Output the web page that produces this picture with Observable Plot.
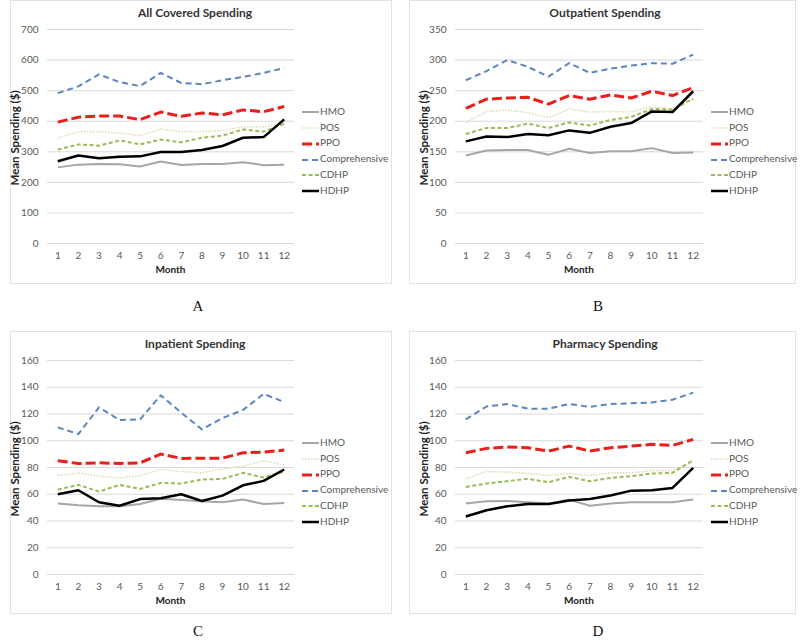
<!DOCTYPE html>
<html>
<head>
<meta charset="utf-8">
<script src="https://cdn.jsdelivr.net/npm/d3@7"></script>
<script src="https://cdn.jsdelivr.net/npm/@observablehq/plot@0.6"></script>
<style>
  html, body { margin: 0; padding: 0; background: #fff; }
  #root { position: relative; width: 800px; height: 642px; overflow: hidden; font-family: Lato, "Open Sans", sans-serif; }
  .box { position: absolute; border: 1px solid #e2e2e2; box-sizing: border-box; }
  .abs { position: absolute; white-space: nowrap; }
  .title { font-weight: bold; font-size: 12px; color: #333; transform: translateX(-50%); }
  .ylab { font-weight: bold; font-size: 11.5px; color: #222; transform: translate(-50%, -50%) rotate(-90deg); }
  .xlab { font-weight: bold; font-size: 10px; color: #222; transform: translateX(-50%); }
  .letter { font-family: "Liberation Serif", "DejaVu Serif", serif; font-size: 15px; color: #111; transform: translateX(-50%); }
  .leg { font-size: 10px; color: #595959; }
  .leg svg { vertical-align: middle; }
</style>
</head>
<body>
<div id="root"></div>
<script>
const months = [1,2,3,4,5,6,7,8,9,10,11,12];
const plans = ["HMO","POS","PPO","Comprehensive","CDHP","HDHP"];

// A: All Covered Spending
const allHMO   = [249,258,260,259,252,268,257,260,260,266,256,258];
const allPOS   = [345,366,366,361,353,375,366,366,370,381,381,395];
const allPPO   = [397,413,417,417,405,430,416,427,421,437,431,448];
const allComp  = [492,514,553,528,515,558,525,521,534,545,558,574];
const allCDHP  = [307,324,320,337,324,340,331,346,353,373,366,392];
const allHDHP  = [269,288,279,284,285,299,299,306,319,346,348,406];
// B: Outpatient Spending
const outHMO   = [144,152,153,153,145,155,148,151,151,156,148,149];
const outPOS   = [198,216,218,214,206,220,215,216,215,224,220,235];
const outPPO   = [221,236,238,239,228,242,236,243,238,249,242,255];
const outComp  = [267,282,300,289,273,295,279,286,291,295,294,309];
const outCDHP  = [179,189,189,196,189,198,193,202,207,220,219,237];
const outHDHP  = [167,175,174,179,177,185,181,191,197,216,215,249];
// C: Inpatient Spending
const inHMO    = [53,51.7,51,51,52.7,56.7,55.7,54.7,54,56,52.7,53.4];
const inPOS    = [74,76,73.5,72,74,78.5,77,76,79,81,85,82];
const inPPO    = [85,83,83.5,83,83.5,90,86.8,87,87,91,91.5,93];
const inComp   = [110,105,125,115.5,116,134,121,108.5,117,123,135,129];
const inCDHP   = [63.5,67,62,67,64,68.5,68,71,71.5,76,72.5,77];
const inHDHP   = [60,63,54,51.4,56.4,57,60,55,59,66.7,70,78.5];
// D: Pharmacy Spending
const phHMO    = [53,54.7,55,54,53,56,51.4,53,54,54,54,56];
const phPOS    = [71.5,77,76.5,75.5,74,75.5,74,76,76,77.7,77.7,84];
const phPPO    = [91,94.3,95.3,94.8,92.3,96,92.3,94.8,96,97.3,96.5,101];
const phComp   = [116,125.6,127.4,124,124,127.4,125.4,127.4,128,128.6,130.7,136];
const phCDHP   = [65.5,68,69.7,71.5,69,73,69.7,72.2,73.5,75.5,76,85.5];
const phHDHP   = [43.4,48,51,52.7,52.7,55.4,56.4,59,62.7,63,64.7,79.7];

const titles = ["All Covered Spending","Outpatient Spending","Inpatient Spending","Pharmacy Spending"];
const letters = ["A","B","C","D"];
const yTicks = [
  [0,100,200,300,400,500,600,700],
  [0,50,100,150,200,250,300,350],
  [0,20,40,60,80,100,120,140,160],
  [0,20,40,60,80,100,120,140,160]
];
const series = [
  [allHMO,allPOS,allPPO,allComp,allCDHP,allHDHP],
  [outHMO,outPOS,outPPO,outComp,outCDHP,outHDHP],
  [inHMO,inPOS,inPPO,inComp,inCDHP,inHDHP],
  [phHMO,phPOS,phPPO,phComp,phCDHP,phHDHP]
];

const styles = {
  HMO:           {stroke:"#a6a6a6", strokeWidth:2,   dash:null},
  POS:           {stroke:"#e6d8b6", strokeWidth:1.6, dash:"1.5,1.5"},
  PPO:           {stroke:"#e8201c", strokeWidth:3,   dash:"10,4"},
  Comprehensive: {stroke:"#5b86bd", strokeWidth:2,   dash:"6,4"},
  CDHP:          {stroke:"#9bbb59", strokeWidth:2,   dash:"4,2.5"},
  HDHP:          {stroke:"#000000", strokeWidth:2.5, dash:null}
};

// geometry of panels
const panels = [
  {px:0,   py:0,   box:[10,0,382,284],   fx:[47,294],  ylabX:14},
  {px:400, py:0,   box:[409,0,387,284],  fx:[55,303],  ylabX:23},
  {px:0,   py:331, box:[10,331,382,283], fx:[47,294],  ylabX:14},
  {px:400, py:331, box:[409,331,387,283],fx:[55,303],  ylabX:23}
];

const root = document.getElementById("root");
function el(cls, text, x, y) {
  const d = document.createElement("div");
  d.className = "abs " + cls;
  d.textContent = text;
  d.style.left = x + "px";
  d.style.top = y + "px";
  root.appendChild(d);
  return d;
}

panels.forEach((p, i) => {
  const box = document.createElement("div");
  box.className = "box";
  box.style.left = p.box[0] + "px"; box.style.top = p.box[1] + "px";
  box.style.width = p.box[2] + "px"; box.style.height = p.box[3] + "px";
  root.appendChild(box);

  const W = 400, H = 300;
  const frameTop = 29, frameBottom = 243;
  const data = [];
  plans.forEach((pl, k) => months.forEach((m, j) => data.push({plan: pl, month: m, value: series[i][k][j]})));

  const marks = [
    Plot.gridY(yTicks[i], {stroke:"#d9d9d9", strokeOpacity:1, strokeWidth:1})
  ];
  plans.forEach(pl => {
    const s = styles[pl];
    marks.push(Plot.line(data.filter(d => d.plan === pl), {
      x:"month", y:"value", stroke:s.stroke, strokeWidth:s.strokeWidth,
      strokeDasharray:s.dash, strokeLinejoin:"round", strokeLinecap:"butt"
    }));
  });
  marks.push(Plot.axisY(yTicks[i], {tickSize:0, tickPadding:9, label:null, fontSize:10, color:"#595959", fill:"#595959"}));
  marks.push(Plot.axisX(months, {tickSize:0, tickPadding:8, label:null, fontSize:10, fill:"#595959"}));

  const chart = Plot.plot({
    width: W, height: H,
    marginLeft: p.fx[0], marginRight: W - p.fx[1],
    marginTop: frameTop, marginBottom: H - frameBottom,
    x: {domain:[0.5, 12.5]},
    y: {domain:[0, yTicks[i][yTicks[i].length-1]]},
    style: {fontFamily: "Lato, 'Open Sans', sans-serif", background: "transparent", overflow: "visible"},
    marks
  });
  chart.style.position = "absolute";
  chart.style.left = p.px + "px";
  chart.style.top = p.py + "px";
  root.appendChild(chart);

  const cx = p.px + (p.fx[0] + p.fx[1]) / 2;
  el("title", titles[i], p.px + (i % 2 ? 205 : 195), p.py + 5);
  el("ylab", "Mean Spending ($)", p.px + p.ylabX, p.py + 138);
  el("xlab", "Month", cx, p.py + 263);
  el("letter", letters[i], p.px + 198, p.py + (i < 2 ? 298 : 292));

  // legend
  const legX = p.px + p.fx[1] + 8;
  plans.forEach((pl, k) => {
    const s = styles[pl];
    const row = document.createElement("div");
    row.className = "abs leg";
    row.style.left = legX + "px";
    row.style.top = (p.py + 105 + k * 15.7) + "px";
    row.innerHTML = `<svg width="17" height="6" style="margin-right:1px"><line x1="0" x2="17" y1="3" y2="3" stroke="${s.stroke}" stroke-width="${s.strokeWidth}" ${s.dash ? `stroke-dasharray="${s.dash}"` : ""}/></svg>`;
    row.appendChild(document.createTextNode(pl));
    root.appendChild(row);
  });
});
</script>
</body>
</html>
